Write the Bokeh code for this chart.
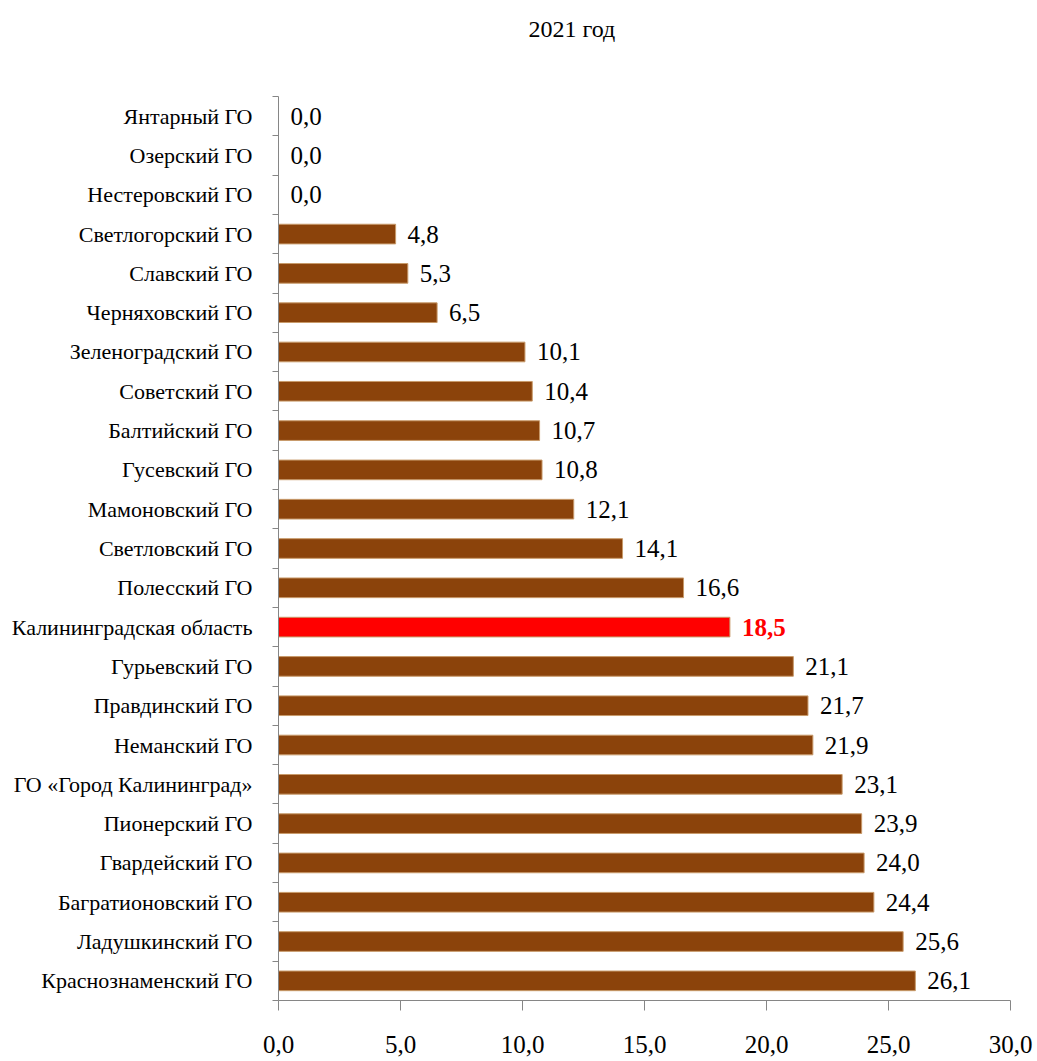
from bokeh.plotting import figure
from bokeh.models import ColumnDataSource, FixedTicker, Title
from bokeh.core.properties import value
from bokeh.embed import file_html
from bokeh.resources import INLINE

title_text = "2021 год"
categories = [
    "Янтарный ГО", "Озерский ГО", "Нестеровский ГО", "Светлогорский ГО",
    "Славский ГО", "Черняховский ГО", "Зеленоградский ГО", "Советский ГО",
    "Балтийский ГО", "Гусевский ГО", "Мамоновский ГО", "Светловский ГО",
    "Полесский ГО", "Калининградская область", "Гурьевский ГО",
    "Правдинский ГО", "Неманский ГО", "ГО «Город Калининград»",
    "Пионерский ГО", "Гвардейский ГО", "Багратионовский ГО",
    "Ладушкинский ГО", "Краснознаменский ГО",
]
values = [0.0, 0.0, 0.0, 4.8, 5.3, 6.5, 10.1, 10.4, 10.7, 10.8, 12.1, 14.1,
          16.6, 18.5, 21.1, 21.7, 21.9, 23.1, 23.9, 24.0, 24.4, 25.6, 26.1]
highlight = "Калининградская область"
x_ticks = [0, 5, 10, 15, 20, 25, 30]

FONT = "Liberation Serif"
BROWN = "#8B430B"
RED = "#FF0000"

n = len(categories)
ypos = [n - 1 - i for i in range(n)]
bar_colors = [RED if c == highlight else BROWN for c in categories]
text_colors = [RED if c == highlight else "black" for c in categories]
labels = [f"{v:.1f}".replace(".", ",") for v in values]
styles = ["bold" if c == highlight else "normal" for c in categories]

src = ColumnDataSource(dict(y=ypos, v=values, color=bar_colors, tcolor=text_colors,
                            lab=labels, style=styles, cat=categories))

W, H = 1037, 1061
p = figure(width=W, height=H, output_backend="svg", toolbar_location=None,
           x_range=(0, 30), y_range=(-0.5, n - 0.5))
p.min_border_left = 278
p.min_border_right = 27
p.min_border_top = 96
p.min_border_bottom = 61
p.outline_line_color = None
p.xgrid.grid_line_color = None
p.ygrid.grid_line_color = None
p.background_fill_color = "white"

p.hbar(y="y", right="v", left=0, height=0.5, fill_color="color",
       line_color="#c89a6a", line_width=1, source=src)

p.text(x="v", y="y", text="lab", x_offset=12, text_baseline="middle",
       text_align="left", text_font=value(FONT), text_font_size="25px",
       text_color="tcolor", text_font_style="style", source=src)

# x axis
p.xaxis.ticker = FixedTicker(ticks=x_ticks)
p.xaxis.major_label_overrides = {t: f"{t:.1f}".replace(".", ",") for t in x_ticks}
p.xaxis.axis_line_color = "#868686"
p.xaxis.major_tick_line_color = "#868686"
p.xaxis.major_tick_in = 0
p.xaxis.major_tick_out = 10
p.xaxis.minor_tick_line_color = None
p.xaxis.major_label_standoff = 25
p.xaxis.major_label_text_font = FONT
p.xaxis.major_label_text_font_size = "25px"
p.xaxis.major_label_text_color = "black"

# y axis
p.yaxis.ticker = FixedTicker(ticks=ypos,
                             minor_ticks=[k - 0.5 for k in range(n + 1)])
p.yaxis.major_label_overrides = {y: c for y, c in zip(ypos, categories)}
p.yaxis.axis_line_color = "#868686"
p.yaxis.major_tick_line_color = None
p.yaxis.major_tick_in = 0
p.yaxis.major_tick_out = 0
p.yaxis.minor_tick_line_color = "#868686"
p.yaxis.minor_tick_in = 0
p.yaxis.minor_tick_out = 6
p.yaxis.major_label_standoff = 20
p.yaxis.major_label_text_font = FONT
p.yaxis.major_label_text_font_size = "22px"
p.yaxis.major_label_text_color = "black"

# title: trailing blank lines lift the visible line to the top of the page
p.add_layout(Title(text=title_text + "\n\n", align="left", offset=250, standoff=6,
                   text_font=FONT, text_font_size="24px",
                   text_font_style="normal", text_color="black"), "above")

open("out.html", "w").write(file_html(p, INLINE))
